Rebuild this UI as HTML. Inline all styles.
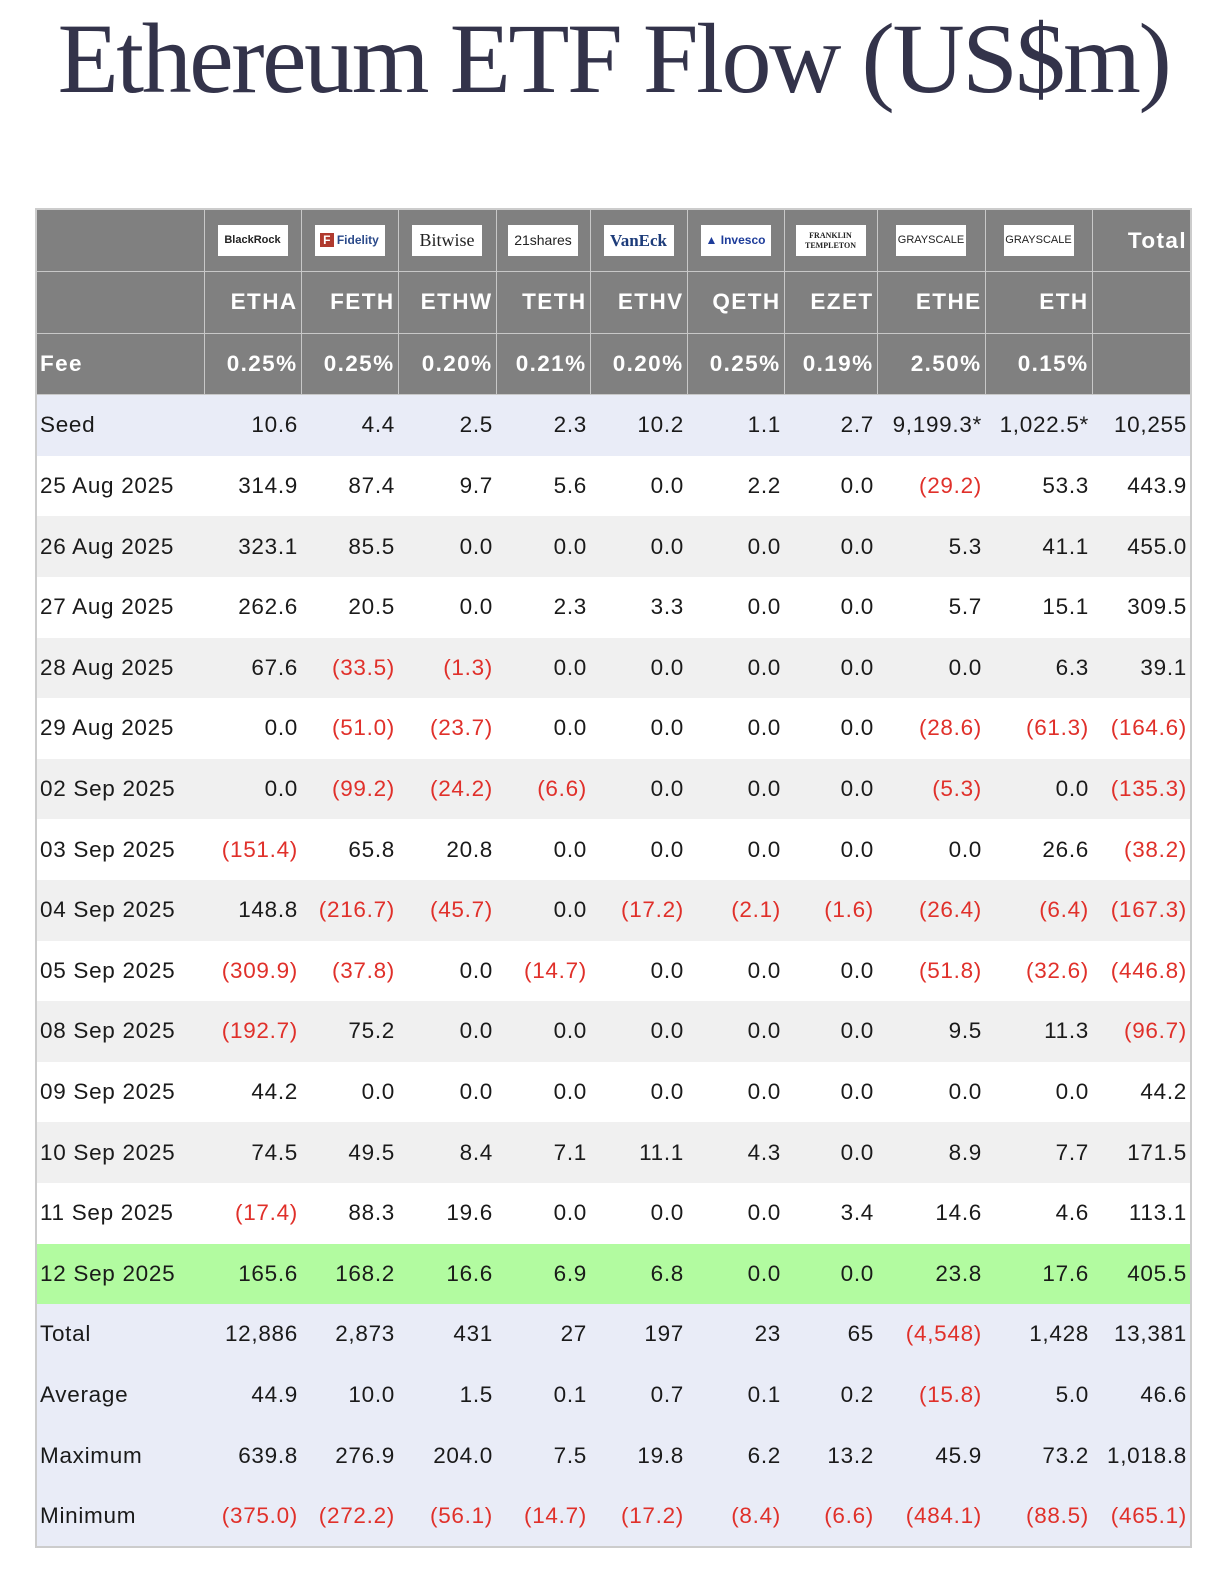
<!DOCTYPE html>
<html><head><meta charset="utf-8"><style>
body{margin:0;background:#fff;width:1230px;height:1588px;position:relative;font-family:"Liberation Sans",sans-serif;}
h1{position:absolute;left:6px;top:4px;width:1215px;margin:0;text-align:center;font-family:"Liberation Serif",serif;font-weight:normal;font-size:100px;color:#33334a;letter-spacing:-2.4px;line-height:110px;}
table{position:absolute;left:35px;top:208px;border-collapse:collapse;table-layout:fixed;width:1156px;border:2px solid #ccc;}
td{padding:0 3px 0 3px;text-align:right;font-size:22.5px;color:#1a1a1a;height:60.6px;white-space:nowrap;overflow:hidden;letter-spacing:0.7px;}
td:first-child{text-align:left;}
tr.h td{background:#808080;color:#fff;font-weight:bold;border:1px solid #c8c8c8;letter-spacing:1.4px;}
tr.h1 td{height:61px;}
.logo{display:inline-block;background:#fff;height:31px;line-height:31px;text-align:center;font-size:12px;color:#222;letter-spacing:0;font-weight:bold;vertical-align:middle;}
tr.l td{background:#e9ecf7;}
tr.g td{background:#f0f0f0;}
tr.w td{background:#fff;}
tr.gr td{background:#b2fba0;}
.r{color:#e0302a;}
</style></head><body>
<h1>Ethereum ETF Flow (US$m)</h1>
<table>
<colgroup><col style="width:168px"><col style="width:97px"><col style="width:97px"><col style="width:98px"><col style="width:94px"><col style="width:97px"><col style="width:97px"><col style="width:93px"><col style="width:108px"><col style="width:107px"><col style="width:99px"></colgroup>
<tr class="h h1"><td></td>
<td style="text-align:center"><span class="logo" style="width:70px;font-size:11px">BlackRock</span></td>
<td style="text-align:center"><span class="logo" style="width:70px;color:#2b4a8a"><span style="background:#b03a2e;color:#fff;padding:0 3px">F</span> Fidelity</span></td>
<td style="text-align:center"><span class="logo" style="width:70px;font-family:'Liberation Serif',serif;font-weight:normal;font-size:18px">Bitwise</span></td>
<td style="text-align:center"><span class="logo" style="width:70px;font-weight:normal;font-size:14px">21shares</span></td>
<td style="text-align:center"><span class="logo" style="width:70px;font-family:'Liberation Serif',serif;color:#1d3c7a;font-size:17px">VanEck</span></td>
<td style="text-align:center"><span class="logo" style="width:70px;color:#1d3c9a">▲ Invesco</span></td>
<td style="text-align:center"><span class="logo" style="width:70px;font-size:8px;line-height:10px;padding-top:6px;height:25px;font-family:'Liberation Serif',serif">FRANKLIN<br>TEMPLETON</span></td>
<td style="text-align:center"><span class="logo" style="width:70px;font-weight:normal;font-size:11px">GRAYSCALE</span></td>
<td style="text-align:center"><span class="logo" style="width:70px;font-weight:normal;font-size:11px">GRAYSCALE</span></td>
<td>Total</td></tr>
<tr class="h"><td></td><td>ETHA</td><td>FETH</td><td>ETHW</td><td>TETH</td><td>ETHV</td><td>QETH</td><td>EZET</td><td>ETHE</td><td>ETH</td><td></td></tr>
<tr class="h"><td>Fee</td><td>0.25%</td><td>0.25%</td><td>0.20%</td><td>0.21%</td><td>0.20%</td><td>0.25%</td><td>0.19%</td><td>2.50%</td><td>0.15%</td><td></td></tr>
<tr class="l"><td>Seed</td><td>10.6</td><td>4.4</td><td>2.5</td><td>2.3</td><td>10.2</td><td>1.1</td><td>2.7</td><td>9,199.3*</td><td>1,022.5*</td><td>10,255</td></tr>
<tr class="w"><td>25 Aug 2025</td><td>314.9</td><td>87.4</td><td>9.7</td><td>5.6</td><td>0.0</td><td>2.2</td><td>0.0</td><td class="r">(29.2)</td><td>53.3</td><td>443.9</td></tr>
<tr class="g"><td>26 Aug 2025</td><td>323.1</td><td>85.5</td><td>0.0</td><td>0.0</td><td>0.0</td><td>0.0</td><td>0.0</td><td>5.3</td><td>41.1</td><td>455.0</td></tr>
<tr class="w"><td>27 Aug 2025</td><td>262.6</td><td>20.5</td><td>0.0</td><td>2.3</td><td>3.3</td><td>0.0</td><td>0.0</td><td>5.7</td><td>15.1</td><td>309.5</td></tr>
<tr class="g"><td>28 Aug 2025</td><td>67.6</td><td class="r">(33.5)</td><td class="r">(1.3)</td><td>0.0</td><td>0.0</td><td>0.0</td><td>0.0</td><td>0.0</td><td>6.3</td><td>39.1</td></tr>
<tr class="w"><td>29 Aug 2025</td><td>0.0</td><td class="r">(51.0)</td><td class="r">(23.7)</td><td>0.0</td><td>0.0</td><td>0.0</td><td>0.0</td><td class="r">(28.6)</td><td class="r">(61.3)</td><td class="r">(164.6)</td></tr>
<tr class="g"><td>02 Sep 2025</td><td>0.0</td><td class="r">(99.2)</td><td class="r">(24.2)</td><td class="r">(6.6)</td><td>0.0</td><td>0.0</td><td>0.0</td><td class="r">(5.3)</td><td>0.0</td><td class="r">(135.3)</td></tr>
<tr class="w"><td>03 Sep 2025</td><td class="r">(151.4)</td><td>65.8</td><td>20.8</td><td>0.0</td><td>0.0</td><td>0.0</td><td>0.0</td><td>0.0</td><td>26.6</td><td class="r">(38.2)</td></tr>
<tr class="g"><td>04 Sep 2025</td><td>148.8</td><td class="r">(216.7)</td><td class="r">(45.7)</td><td>0.0</td><td class="r">(17.2)</td><td class="r">(2.1)</td><td class="r">(1.6)</td><td class="r">(26.4)</td><td class="r">(6.4)</td><td class="r">(167.3)</td></tr>
<tr class="w"><td>05 Sep 2025</td><td class="r">(309.9)</td><td class="r">(37.8)</td><td>0.0</td><td class="r">(14.7)</td><td>0.0</td><td>0.0</td><td>0.0</td><td class="r">(51.8)</td><td class="r">(32.6)</td><td class="r">(446.8)</td></tr>
<tr class="g"><td>08 Sep 2025</td><td class="r">(192.7)</td><td>75.2</td><td>0.0</td><td>0.0</td><td>0.0</td><td>0.0</td><td>0.0</td><td>9.5</td><td>11.3</td><td class="r">(96.7)</td></tr>
<tr class="w"><td>09 Sep 2025</td><td>44.2</td><td>0.0</td><td>0.0</td><td>0.0</td><td>0.0</td><td>0.0</td><td>0.0</td><td>0.0</td><td>0.0</td><td>44.2</td></tr>
<tr class="g"><td>10 Sep 2025</td><td>74.5</td><td>49.5</td><td>8.4</td><td>7.1</td><td>11.1</td><td>4.3</td><td>0.0</td><td>8.9</td><td>7.7</td><td>171.5</td></tr>
<tr class="w"><td>11 Sep 2025</td><td class="r">(17.4)</td><td>88.3</td><td>19.6</td><td>0.0</td><td>0.0</td><td>0.0</td><td>3.4</td><td>14.6</td><td>4.6</td><td>113.1</td></tr>
<tr class="gr"><td>12 Sep 2025</td><td>165.6</td><td>168.2</td><td>16.6</td><td>6.9</td><td>6.8</td><td>0.0</td><td>0.0</td><td>23.8</td><td>17.6</td><td>405.5</td></tr>
<tr class="l"><td>Total</td><td>12,886</td><td>2,873</td><td>431</td><td>27</td><td>197</td><td>23</td><td>65</td><td class="r">(4,548)</td><td>1,428</td><td>13,381</td></tr>
<tr class="l"><td>Average</td><td>44.9</td><td>10.0</td><td>1.5</td><td>0.1</td><td>0.7</td><td>0.1</td><td>0.2</td><td class="r">(15.8)</td><td>5.0</td><td>46.6</td></tr>
<tr class="l"><td>Maximum</td><td>639.8</td><td>276.9</td><td>204.0</td><td>7.5</td><td>19.8</td><td>6.2</td><td>13.2</td><td>45.9</td><td>73.2</td><td>1,018.8</td></tr>
<tr class="l"><td>Minimum</td><td class="r">(375.0)</td><td class="r">(272.2)</td><td class="r">(56.1)</td><td class="r">(14.7)</td><td class="r">(17.2)</td><td class="r">(8.4)</td><td class="r">(6.6)</td><td class="r">(484.1)</td><td class="r">(88.5)</td><td class="r">(465.1)</td></tr>
</table>
</body></html>
